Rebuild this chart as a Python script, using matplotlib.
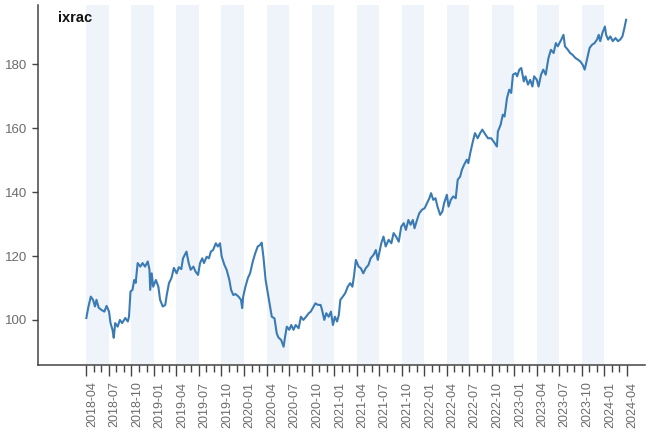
import matplotlib.pyplot as plt
import matplotlib.dates as mdates
from matplotlib.transforms import ScaledTranslation
import pandas as pd

plt.rcParams['font.family'] = ['Liberation Sans', 'DejaVu Sans']

# values
dates = [
    '2018-04-01', '2018-04-09', '2018-04-19', '2018-04-28', '2018-05-06', '2018-05-12',
    '2018-05-21', '2018-06-02', '2018-06-13', '2018-06-22', '2018-07-02', '2018-07-08',
    '2018-07-16', '2018-07-21', '2018-07-27', '2018-08-06', '2018-08-15', '2018-08-24',
    '2018-09-06', '2018-09-16', '2018-09-21', '2018-09-27', '2018-10-05', '2018-10-12',
    '2018-10-18', '2018-10-26', '2018-11-06', '2018-11-15', '2018-11-25', '2018-12-06',
    '2018-12-13', '2018-12-16', '2018-12-22', '2018-12-28', '2019-01-08', '2019-01-18',
    '2019-01-25', '2019-02-05', '2019-02-15', '2019-02-21', '2019-03-02', '2019-03-12',
    '2019-03-22', '2019-04-02', '2019-04-11', '2019-04-21', '2019-04-28', '2019-05-12',
    '2019-05-21', '2019-05-29', '2019-06-09', '2019-06-18', '2019-06-28', '2019-07-06',
    '2019-07-15', '2019-07-22', '2019-08-02', '2019-08-11', '2019-08-19', '2019-08-28',
    '2019-09-08', '2019-09-16', '2019-09-25', '2019-10-02', '2019-10-13', '2019-10-22',
    '2019-11-02', '2019-11-09', '2019-11-18', '2019-11-27', '2019-12-09', '2019-12-19',
    '2019-12-24', '2019-12-28', '2020-01-06', '2020-01-16', '2020-01-25', '2020-02-05',
    '2020-02-15', '2020-02-25', '2020-03-06', '2020-03-12', '2020-03-19', '2020-03-28',
    '2020-04-06', '2020-04-15', '2020-04-22', '2020-05-03', '2020-05-12', '2020-05-19',
    '2020-05-30', '2020-06-09', '2020-06-15', '2020-06-22', '2020-07-02', '2020-07-10',
    '2020-07-19', '2020-07-28', '2020-08-09', '2020-08-18', '2020-08-28', '2020-09-08',
    '2020-09-19', '2020-09-27', '2020-10-05', '2020-10-16', '2020-10-26', '2020-11-06',
    '2020-11-12', '2020-11-21', '2020-11-29', '2020-12-09', '2020-12-18', '2020-12-26',
    '2021-01-03', '2021-01-12', '2021-01-19', '2021-01-25', '2021-02-04', '2021-02-14',
    '2021-02-24', '2021-03-06', '2021-03-15', '2021-03-22', '2021-03-29', '2021-04-09',
    '2021-04-18', '2021-04-28', '2021-05-08', '2021-05-19', '2021-05-28', '2021-06-09',
    '2021-06-18', '2021-06-26', '2021-07-10', '2021-07-19', '2021-07-28', '2021-08-09',
    '2021-08-20', '2021-08-29', '2021-09-08', '2021-09-19', '2021-09-29', '2021-10-09',
    '2021-10-18', '2021-10-28', '2021-11-06', '2021-11-15', '2021-11-22', '2021-12-02',
    '2021-12-11', '2021-12-22', '2022-01-02', '2022-01-12', '2022-01-21', '2022-01-28',
    '2022-02-06', '2022-02-15', '2022-02-23', '2022-03-06', '2022-03-15', '2022-03-22',
    '2022-04-02', '2022-04-09', '2022-04-18', '2022-04-28', '2022-05-08', '2022-05-16',
    '2022-05-26', '2022-06-02', '2022-06-11', '2022-06-22', '2022-06-28', '2022-07-06',
    '2022-07-15', '2022-07-25', '2022-08-05', '2022-08-15', '2022-08-24', '2022-09-06',
    '2022-09-16', '2022-09-29', '2022-10-13', '2022-10-22', '2022-10-26', '2022-11-06',
    '2022-11-15', '2022-11-22', '2022-12-02', '2022-12-11', '2022-12-19', '2022-12-26',
    '2023-01-06', '2023-01-12', '2023-01-21', '2023-01-29', '2023-02-08', '2023-02-15',
    '2023-02-25', '2023-03-06', '2023-03-15', '2023-03-22', '2023-04-02', '2023-04-09',
    '2023-04-19', '2023-04-28', '2023-05-08', '2023-05-19', '2023-05-29', '2023-06-09',
    '2023-06-18', '2023-06-26', '2023-07-10', '2023-07-19', '2023-07-25', '2023-08-06',
    '2023-08-15', '2023-08-24', '2023-09-06', '2023-09-16', '2023-09-25', '2023-10-05',
    '2023-10-13', '2023-10-22', '2023-11-02', '2023-11-12', '2023-11-22', '2023-12-02',
    '2023-12-09', '2023-12-15', '2023-12-24', '2024-01-03', '2024-01-08', '2024-01-16',
    '2024-01-25', '2024-02-04', '2024-02-15', '2024-02-25', '2024-03-05', '2024-03-14',
    '2024-03-22', '2024-03-29',
]
values = [
    100.6, 104.0, 107.3, 106.3, 104.2, 106.3,
    103.8, 103.1, 102.6, 104.4, 102.6, 99.0,
    96.9, 94.4, 99.0, 97.9, 100.0, 99.0,
    100.6, 99.5, 101.0, 108.9, 109.4, 112.5,
    111.6, 117.8, 116.7, 117.8, 116.7, 118.3,
    115.7, 109.4, 114.6, 110.4, 112.5, 110.4,
    106.3, 104.2, 104.7, 107.8, 111.5, 113.1,
    116.3, 114.6, 116.5, 115.9, 119.3, 121.4,
    117.8, 115.7, 116.7, 115.1, 114.1, 117.8,
    119.3, 117.8, 119.8, 119.3, 121.4, 121.9,
    124.0, 123.0, 124.0, 119.8, 117.2, 115.7,
    112.5, 109.4, 107.8, 108.1, 107.3, 106.3,
    103.7, 107.3, 110.4, 113.1, 114.6, 118.3,
    120.9, 123.0, 123.5, 124.2, 119.8, 112.5,
    108.4, 104.2, 101.0, 100.5, 95.8, 94.5,
    93.7, 91.6, 94.8, 97.9, 96.9, 98.4,
    96.9, 98.4, 97.4, 101.0, 100.0, 101.0,
    102.1, 102.6, 103.7, 105.2, 104.7, 104.7,
    103.1, 100.0, 102.1, 101.0, 102.6, 98.4,
    101.0, 99.5, 101.6, 106.3, 107.3, 108.4,
    110.4, 111.5, 110.4, 114.1, 118.8, 116.7,
    116.2, 114.6, 116.2, 117.2, 119.3, 120.4,
    121.9, 118.8, 124.0, 126.1, 123.0, 125.1,
    124.0, 127.2, 126.1, 124.5, 129.2, 130.3,
    128.2, 131.3, 129.8, 131.3, 128.7, 131.3,
    133.4, 134.5, 135.0, 136.6, 138.1, 139.7,
    137.6, 138.1, 135.5, 132.9, 134.0, 136.6,
    139.2, 135.5, 137.6, 138.7, 138.1, 143.9,
    144.9, 147.0, 148.6, 150.2, 149.1, 152.3,
    155.4, 158.5, 156.9, 158.5, 159.6, 158.0,
    156.9, 156.9, 155.4, 154.3, 159.0, 161.1,
    164.3, 163.7, 169.5, 172.1, 171.1, 176.8,
    177.3, 176.3, 178.4, 178.9, 174.7, 176.3,
    173.7, 175.2, 173.1, 176.3, 175.2, 173.1,
    176.8, 178.4, 176.8, 182.0, 184.6, 183.6,
    186.7, 185.7, 187.8, 189.3, 185.7, 184.6,
    183.6, 183.1, 182.0, 181.5, 181.0, 179.9,
    178.4, 181.5, 185.2, 186.2, 186.7, 187.8,
    189.3, 187.3, 189.9, 191.9, 189.3, 187.8,
    188.8, 187.3, 188.3, 187.3, 187.8, 188.8,
    191.4, 194.0,
]

quarter_labels = [
    '2018-04', '2018-07', '2018-10', '2019-01', '2019-04', '2019-07', '2019-10',
    '2020-01', '2020-04', '2020-07', '2020-10', '2021-01', '2021-04', '2021-07',
    '2021-10', '2022-01', '2022-04', '2022-07', '2022-10', '2023-01', '2023-04',
    '2023-07', '2023-10', '2024-01', '2024-04',
]
# shaded quarters (each band is three months wide)
band_starts = [
    '2018-04', '2018-10', '2019-04', '2019-10', '2020-04', '2020-10',
    '2021-04', '2021-10', '2022-04', '2022-10', '2023-04', '2023-10',
]
y_ticks = [100, 120, 140, 160, 180]

fig = plt.figure(figsize=(6.49, 4.36), dpi=100)
ax = fig.add_axes([0.0586, 0.163, 0.935, 0.826])

for b in band_starts:
    s = pd.Timestamp(b)
    ax.axvspan(s, s + pd.DateOffset(months=3), color='#eef4fa', lw=0, zorder=0)

ax.plot(pd.to_datetime(dates), values, color='#3b7bb4', lw=1.5, zorder=2)

ax.set_xlim(pd.Timestamp('2017-09-17'), pd.Timestamp('2024-06-13'))
ax.set_ylim(85.9, 198.7)

ax.set_xticks(mdates.date2num(pd.to_datetime(quarter_labels)))
ax.set_xticklabels(quarter_labels, rotation=90)
ax.set_xticks(mdates.date2num(pd.date_range('2018-04-01', '2024-04-01', freq='MS')), minor=True)
ax.set_yticks(y_ticks)

for side in ['top', 'right']:
    ax.spines[side].set_visible(False)
for side in ['left', 'bottom']:
    ax.spines[side].set_color('#444444')
    ax.spines[side].set_linewidth(1.1)

ax.tick_params(axis='x', which='major', length=8, width=1, color='#444444',
               labelcolor='#6b6b6b', labelsize=9, pad=4)
ax.tick_params(axis='x', which='minor', length=5, width=1, color='#444444')
ax.tick_params(axis='y', length=4, width=1, color='#444444',
               labelcolor='#6b6b6b', labelsize=9.5, pad=4)

# labels sit a little right of their ticks in the original
shift = ScaledTranslation(4 / 72, 0, fig.dpi_scale_trans)
for lbl in ax.get_xticklabels():
    lbl.set_transform(lbl.get_transform() + shift)

ax.text(0.033, 0.964, 'ixrac', transform=ax.transAxes, fontweight='bold',
        fontsize=10.5, va='center', ha='left', color='#111111')

fig.savefig('out.png', dpi=100)
